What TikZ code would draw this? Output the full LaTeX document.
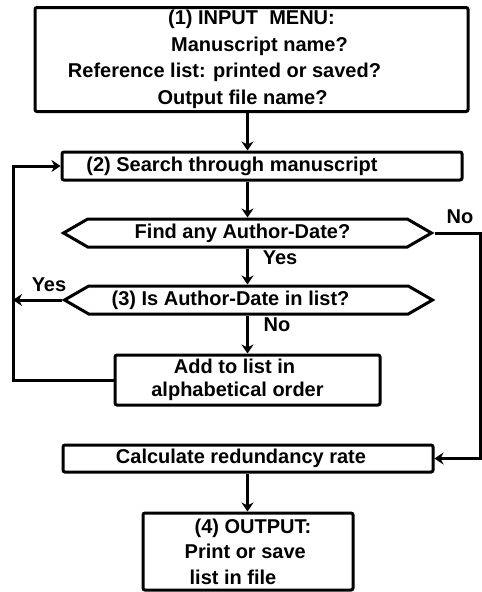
\documentclass[tikz,border=0pt]{standalone}
\usepackage{fontspec}
\setmainfont{Liberation Sans}
\usepackage{tikz}
\usetikzlibrary{calc,positioning,arrows.meta,shapes.symbols}

\begin{document}
\begin{tikzpicture}[x=1pt, y=-1pt,
  box/.style={draw, line width=3pt, rounded corners=2pt, inner sep=0pt,
    font=\fontsize{20}{26.5}\selectfont\bfseries, align=center},
  hexa/.style={draw, line width=3pt, shape=signal, signal to=west and east,
    signal pointer angle=60, inner sep=0pt, minimum width=368pt,
    minimum height=28pt, font=\fontsize{20}{24}\selectfont\bfseries},
  lbl/.style={font=\fontsize{20}{24}\selectfont\bfseries, inner sep=0pt},
  arr/.style={-{Stealth[length=9pt, width=12pt]}, line width=3pt},
]
  \useasboundingbox (0,0) rectangle (482,592);

  % Boxes
  \node[box, minimum width=433pt, minimum height=104pt] (menu) at (251.5, 59.5)
    {(1) INPUT\ \ MENU:\\\hspace*{16pt}Manuscript name?\\
     \hspace*{-54pt}Reference list: printed or saved?\\\hspace*{-18pt}Output file name?};
  \node[box, minimum width=400pt, minimum height=28pt] (search) at (262, 166)
    {\hspace*{-60pt}(2) Search through manuscript};
  \node[hexa] (find) at (247.5, 233) {\hspace*{-10pt}Find any Author-Date?};
  \node[hexa] (inlist) at (248.5, 300) {\hspace*{-36pt}(3) Is Author-Date in list?};
  \node[box, minimum width=265pt, minimum height=50pt,
    font=\fontsize{20}{23}\selectfont\bfseries] (add) at (247.5, 380)
    {\hspace*{-26pt}Add to list in\\\hspace*{-20pt}alphabetical order};
  \node[box, minimum width=370pt, minimum height=27pt] (calc) at (248, 458.5)
    {\hspace*{-14pt}Calculate redundancy rate};
  \node[box, minimum width=210pt, minimum height=77pt, align=left,
    font=\fontsize{20}{25.5}\selectfont\bfseries] (output) at (248, 551.5)
    {\hspace*{10pt}(4) OUTPUT:\\Print or save\\\hspace*{5pt}list in file};

  % Loop rails
  \coordinate (leftrail) at (13, 0);
  \coordinate (rightrail) at (480, 0);

  % Arrows
  \draw[arr] (menu.south -| find.center) -- (search.north -| find.center);
  \draw[arr] (search.south -| find.center) -- (find.north);
  \draw[arr] (find.south) -- (inlist.north -| find.center);
  \draw[arr] (inlist.south -| find.center) -- (add.north);
  \draw[arr] (inlist.west) -- (inlist.west -| leftrail);
  \draw[arr] (add.west) -- (add.west -| leftrail) |- (search.west);
  \draw[arr] (find.east) -- (find.east -| rightrail) |- (calc.east);
  \draw[arr] (calc.south -| find.center) -- (output.north -| find.center);

  % Branch labels
  \node[lbl] (nofind) at (460, 217) {No};
  \node[lbl] (yesfind) at (280, 258) {Yes};
  \node[lbl] (yeslist) at (49, 285) {Yes};
  \node[lbl] (nolist) at (277, 325) {No};
\end{tikzpicture}
\end{document}
